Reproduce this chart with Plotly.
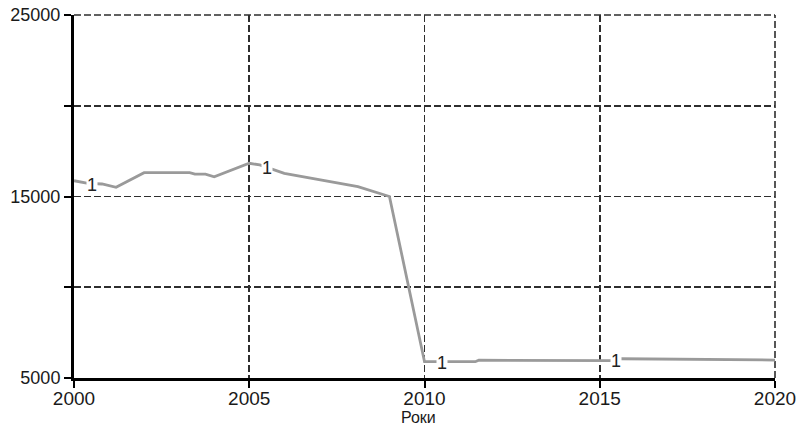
import numpy as np
import plotly.graph_objects as go

# Data
years = [2000.0, 2000.4, 2000.8, 2001.2, 2002.0, 2003.3, 2003.45, 2003.75, 2004.0,
         2005.0, 2005.3, 2006.0, 2008.1, 2009.0, 2010.0, 2010.5, 2011.45, 2011.55,
         2015.4, 2015.6, 2020.0]
values = [15870, 15720, 15690, 15510, 16310, 16310, 16230, 16230, 16090,
          16830, 16740, 16280, 15540, 15000, 5900, 5900, 5900, 5980,
          5960, 6060, 5990]
label_years = [2000.5, 2005.5, 2010.5, 2015.45]
label_text = "1"
x_ticks = [2000, 2005, 2010, 2015, 2020]
y_ticks = [5000, 10000, 15000, 20000, 25000]
y_ticktext = ["5000", "", "15000", "", "25000"]
x_title = "Роки"

FONT = "Liberation Sans, Arial, sans-serif"
GRID = dict(color="#2e2e2e", width=1.6, dash="7px,3px")

fig = go.Figure()
fig.add_trace(go.Scatter(
    x=years, y=values, mode="lines",
    line=dict(color="#9a9a9a", width=2.8),
    showlegend=False, hoverinfo="skip",
))

label_vals = np.interp(label_years, years, values)
for lx, ly in zip(label_years, label_vals):
    fig.add_annotation(
        x=lx, y=ly, text=label_text, showarrow=False,
        font=dict(family=FONT, size=18, color="#222222"),
        bgcolor="white", borderpad=0, yshift=-1,
    )

# x-axis title as an annotation below the tick labels
fig.add_annotation(
    x=0.5, y=0, xref="paper", yref="paper", text=x_title, showarrow=False,
    xanchor="center", yanchor="bottom", xshift=-6, yshift=-50,
    font=dict(family=FONT, size=16, color="#1a1a1a"),
)

# dashed frame on top and right edges (grid lines at the range ends)
fig.add_shape(type="line", xref="paper", yref="paper", x0=0, x1=1, y0=1, y1=1,
              line=GRID, layer="below")
fig.add_shape(type="line", xref="paper", yref="paper", x0=1, x1=1, y0=0, y1=1,
              line=GRID, layer="below")

fig.update_layout(
    width=797, height=428,
    margin=dict(l=74, r=22, t=15, b=50),
    paper_bgcolor="white", plot_bgcolor="white",
    font=dict(family=FONT, size=18, color="#1a1a1a"),
    xaxis=dict(
        range=[2000, 2020], tickvals=x_ticks, ticktext=[str(v) for v in x_ticks],
        showline=True, linecolor="black", linewidth=3,
        ticks="outside", ticklen=7, tickwidth=2, tickcolor="black",
        showgrid=True, gridcolor=GRID["color"], griddash=GRID["dash"], gridwidth=GRID["width"],
        zeroline=False, tickfont=dict(size=19), automargin=False,
        ticklabelstandoff=-6,
    ),
    yaxis=dict(
        range=[5000, 25000], tickvals=y_ticks, ticktext=y_ticktext,
        showline=True, linecolor="black", linewidth=3,
        ticks="outside", ticklen=7, tickwidth=2, tickcolor="black",
        showgrid=True, gridcolor=GRID["color"], griddash=GRID["dash"], gridwidth=GRID["width"],
        zeroline=False, tickfont=dict(size=18), automargin=False,
    ),
)

fig.write_html(
    "out.html",
    config={"displayModeBar": False, "staticPlot": True},
    post_script="document.body.style.margin='0';document.body.style.overflow='hidden';",
)
